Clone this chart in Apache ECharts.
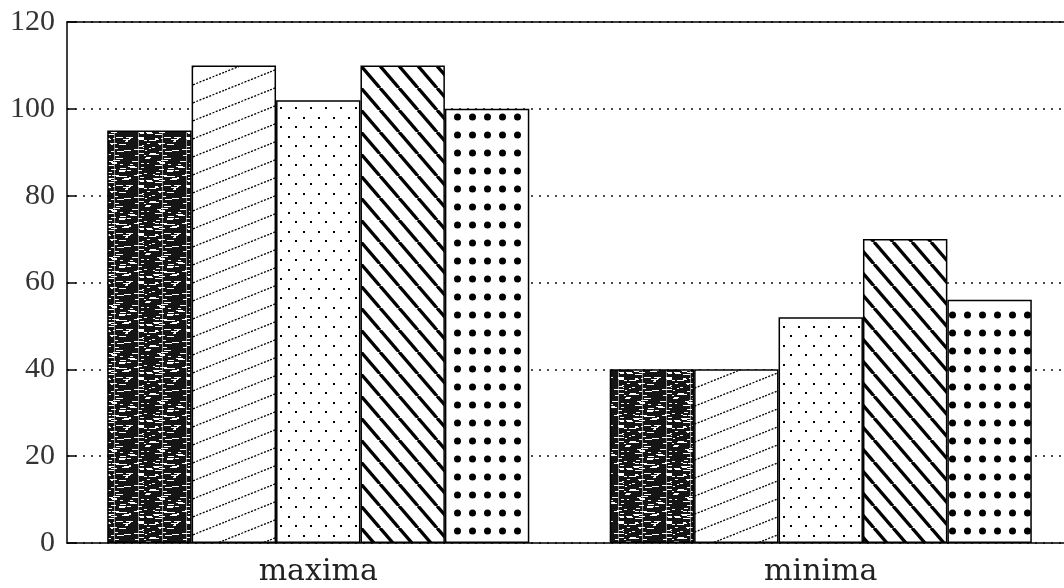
<!DOCTYPE html>
<html>
<head>
<meta charset="utf-8">
<script src="https://cdn.jsdelivr.net/npm/echarts@6/dist/echarts.min.js"></script>
<style>
html,body{margin:0;padding:0;background:#fff;}
#chart{width:1064px;height:588px;}
</style>
</head>
<body>
<div id="chart"></div>
<script>
// ---- data ----
var categories = ['maxima', 'minima'];
var seriesA = [95, 40];
var seriesB = [110, 40];
var seriesC = [102, 52];
var seriesD = [110, 70];
var seriesE = [100, 56];
var yTicks = [0, 20, 40, 60, 80, 100, 120];

// ---- fill textures ----
function makeCanvas(w, h) {
  var c = document.createElement('canvas');
  c.width = w; c.height = h;
  return c;
}
function darkTexture() {
  var c = makeCanvas(48, 48), g = c.getContext('2d');
  g.fillStyle = '#151515'; g.fillRect(0, 0, 48, 48);
  var s = 7;
  function r() { s = (s * 16807) % 2147483647; return s / 2147483647; }
  g.fillStyle = '#fff';
  for (var i = 0; i < 90; i++) {
    var x = Math.floor(r() * 48), y = Math.floor(r() * 48);
    var len = 2 + Math.floor(r() * 6);
    g.fillRect(x, y, len, 1);
  }
  g.fillStyle = 'rgba(255,255,255,0.55)';
  g.fillRect(18, 0, 1, 48);
  g.fillRect(42, 0, 1, 48);
  return c;
}
function fwdHatch() {
  var w = 45, h = 18;
  var c = makeCanvas(w, h), g = c.getContext('2d');
  g.fillStyle = '#fff'; g.fillRect(0, 0, w, h);
  g.strokeStyle = '#000'; g.lineWidth = 1.3;
  g.setLineDash([2, 1.5]);
  for (var k = -1; k <= 1; k++) {
    g.beginPath();
    g.moveTo(0, h + k * h);
    g.lineTo(w, 0 + k * h);
    g.stroke();
  }
  return c;
}
function sparseDots() {
  var w = 15, h = 19;
  var c = makeCanvas(w, h), g = c.getContext('2d');
  g.fillStyle = '#fff'; g.fillRect(0, 0, w, h);
  g.fillStyle = '#000';
  g.fillRect(3, 3, 2, 2);
  g.fillRect(10, 12, 2, 2);
  return c;
}
function backHatch() {
  var w = 19, h = 22;
  var c = makeCanvas(w, h), g = c.getContext('2d');
  g.fillStyle = '#fff'; g.fillRect(0, 0, w, h);
  g.strokeStyle = '#000'; g.lineWidth = 3.4;
  for (var k = -1; k <= 1; k++) {
    g.beginPath();
    g.moveTo(k * w, 0);
    g.lineTo(w + k * w, h);
    g.stroke();
  }
  return c;
}
function boldDots() {
  var w = 15, h = 18;
  var c = makeCanvas(w, h), g = c.getContext('2d');
  g.fillStyle = '#fff'; g.fillRect(0, 0, w, h);
  g.fillStyle = '#000';
  g.beginPath(); g.arc(7.5, 9, 3.5, 0, Math.PI * 2); g.fill();
  return c;
}

var fills = [darkTexture(), fwdHatch(), sparseDots(), backHatch(), boldDots()];
var values = [seriesA, seriesB, seriesC, seriesD, seriesE];

var series = values.map(function (v, i) {
  return {
    type: 'bar',
    data: v,
    barGap: '0%',
    barCategoryGap: '16%',
    itemStyle: {
      color: { image: fills[i], repeat: 'repeat' },
      borderColor: '#000',
      borderWidth: 1.5
    },
    emphasis: { disabled: true },
    animation: false
  };
});

var chart = echarts.init(document.getElementById('chart'));
chart.setOption({
  animation: false,
  backgroundColor: '#fff',
  grid: { left: 67, width: 1005, top: 22, height: 521, outerBoundsMode: 'none', containLabel: false },
  xAxis: [{
    type: 'category',
    data: categories,
    axisLine: { lineStyle: { color: '#000', width: 1.5 } },
    axisTick: { show: false },
    axisLabel: {
      fontFamily: 'DejaVu Serif',
      fontSize: 30,
      color: '#222',
      margin: 14
    }
  }, {
    type: 'category',
    data: categories,
    position: 'top',
    axisLine: { show: true, lineStyle: { color: '#000', width: 1.5 } },
    axisTick: { show: false },
    axisLabel: { show: false }
  }],
  yAxis: {
    type: 'value',
    min: yTicks[0],
    max: yTicks[yTicks.length - 1],
    interval: 20,
    axisLine: { show: true, lineStyle: { color: '#000', width: 1.5 } },
    axisTick: { show: true, inside: true, length: 9, lineStyle: { color: '#000', width: 1.5 } },
    axisLabel: {
      fontFamily: 'Liberation Serif',
      fontSize: 30,
      color: '#333',
      margin: 12
    },
    splitLine: { show: true, lineStyle: { color: '#111', width: 1.6, type: [2, 6] } }
  },
  series: series
});
</script>
</body>
</html>
